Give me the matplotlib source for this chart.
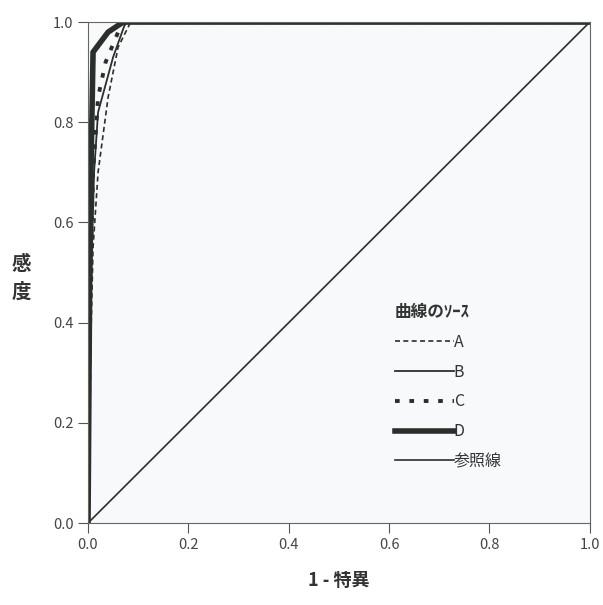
import matplotlib.pyplot as plt

plt.rcParams['font.family'] = ['Noto Sans CJK JP', 'DejaVu Sans']

# ROC curve points (1 - specificity, sensitivity)
a_x = [0.0, 0.004, 0.010, 0.020, 0.040, 0.060, 0.085, 1.0]
a_y = [0.0, 0.30, 0.55, 0.70, 0.85, 0.95, 1.0, 1.0]
b_x = [0.0, 0.004, 0.012, 0.020, 0.050, 0.075, 1.0]
b_y = [0.0, 0.40, 0.70, 0.82, 0.93, 1.0, 1.0]
c_x = [0.0, 0.004, 0.010, 0.020, 0.035, 0.060, 0.075, 1.0]
c_y = [0.0, 0.45, 0.70, 0.85, 0.92, 0.98, 1.0, 1.0]
d_x = [0.0, 0.004, 0.010, 0.040, 0.070, 1.0]
d_y = [0.0, 0.60, 0.94, 0.98, 1.0, 1.0]
ref_x = [0.0, 1.0]
ref_y = [0.0, 1.0]

ticks = [0.0, 0.2, 0.4, 0.6, 0.8, 1.0]
tick_labels = ['0.0', '0.2', '0.4', '0.6', '0.8', '1.0']

fig = plt.figure(figsize=(6.03, 6.05), dpi=100)
fig.patch.set_facecolor('white')
ax = fig.add_axes([0.146, 0.1355, 0.832, 0.828])
ax.set_facecolor('#f7f9fb')

col = '#2b2f2c'
ax.plot(a_x, a_y, color=col, lw=1.2, ls=(0, (3, 2)), label='A')
ax.plot(b_x, b_y, color=col, lw=1.3, ls='-', label='B')
ax.plot(c_x, c_y, color=col, lw=2.8, ls=(0, (1.2, 2.5)), label='C')
ax.plot(d_x, d_y, color=col, lw=4.0, ls='-', label='D')
ax.plot(ref_x, ref_y, color=col, lw=1.2, ls='-', label='参照線')

ax.set_xlim(0, 1)
ax.set_ylim(0, 1)
ax.set_xticks(ticks)
ax.set_xticklabels(tick_labels)
ax.set_yticks(ticks)
ax.set_yticklabels(tick_labels)
ax.tick_params(direction='out', length=7, width=0.8, colors='#555555',
               labelsize=10.5, labelcolor='#444444')
for s in ax.spines.values():
    s.set_color('#666666')
    s.set_linewidth(0.8)

ax.set_xlabel('1 - 特異', fontsize=13, fontweight='bold', color='#333333', labelpad=14)
fig.text(0.035, 0.54, '感\n度', fontsize=14, fontweight='bold', color='#333333',
         ha='center', va='center', linespacing=1.5)

leg = ax.legend(loc='upper left', bbox_to_anchor=(0.595, 0.455), frameon=False,
                title='曲線のｿｰｽ', handlelength=3.7, handletextpad=0.0,
                labelspacing=0.8, fontsize=11.5, borderpad=0)
leg.get_title().set_fontweight('bold')
leg.get_title().set_fontsize(12)
leg.get_title().set_color('#333333')
leg._legend_box.align = 'left'
for t in leg.get_texts():
    t.set_color('#333333')

fig.savefig('out.png', dpi=100)
